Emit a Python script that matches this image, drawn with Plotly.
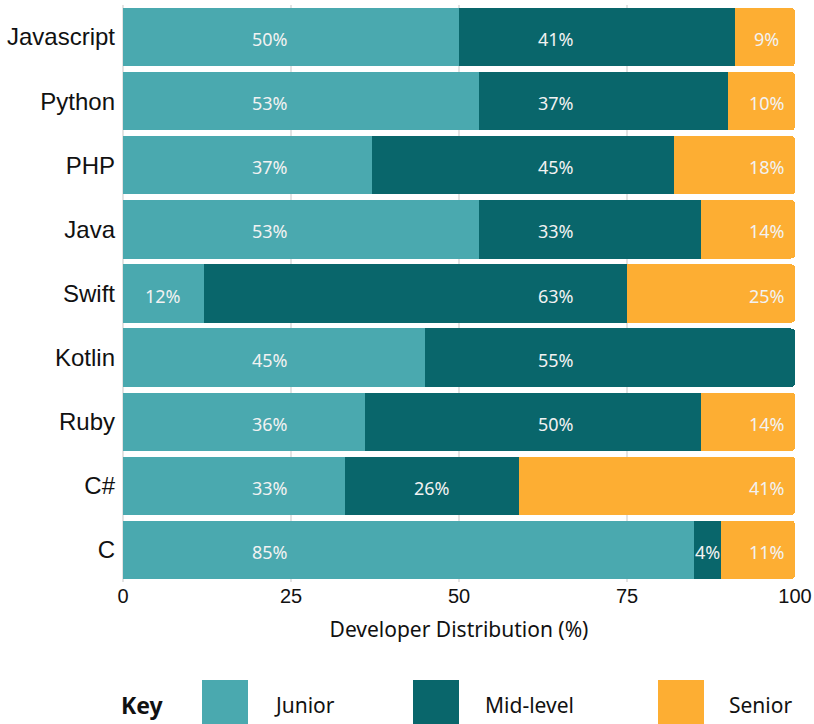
import plotly.graph_objects as go

# Developer seniority split per language (percent of developers)
languages = ["Javascript", "Python", "PHP", "Java", "Swift", "Kotlin", "Ruby", "C#", "C"]
junior = [50, 53, 37, 53, 12, 45, 36, 33, 85]
mid_level = [41, 37, 45, 33, 63, 55, 50, 26, 4]
senior = [9, 10, 18, 14, 25, 0, 14, 41, 11]

series_names = ["Junior", "Mid-level", "Senior"]
series_values = [junior, mid_level, senior]
series_colors = ["#4AA9AF", "#09666B", "#FDAE33"]

# preferred label column for each series (in axis units); falls back to the
# segment centre when the column does not fall inside the segment
label_columns = [21.9, 64.4, 95.8]

tick_values = [0, 25, 50, 75, 100]
axis_title = "Developer Distribution (%)"

label_font = "Noto Sans, Open Sans, sans-serif"
axis_font = "Liberation Sans, Arial, sans-serif"

fig = go.Figure()
for name, vals, color in zip(series_names, series_values, series_colors):
    fig.add_trace(go.Bar(
        y=languages, x=vals, name=name, orientation="h",
        marker=dict(color=color, line=dict(width=0)),
        hoverinfo="x+y+name", showlegend=False,
    ))

annotations = []
for i, lang in enumerate(languages):
    start = 0
    for s, vals in enumerate(series_values):
        v = vals[i]
        end = start + v
        if v > 0:
            col = label_columns[s]
            pad = 2.5
            if start + pad <= col <= end - pad:
                xpos = col
            else:
                xpos = (start + end) / 2
            annotations.append(dict(
                x=xpos, y=lang, xref="x", yref="y", text=f"{v}%",
                showarrow=False, xanchor="center", yanchor="middle", yshift=-2,
                font=dict(family=label_font, size=18, color="#F2F2F2"),
            ))
        start = end

# legend ("Key") drawn below the axis
L, R, T, B = 123, 19, 5, 142
W, H = 814, 724
pw, ph = W - L - R, H - T - B


def px_x(px):
    return (px - L) / pw


def px_y(py):
    return (H - B - py) / ph


annotations.append(dict(
    x=px_x(142), y=px_y(705), xref="paper", yref="paper", text="<b>Key</b>",
    showarrow=False, xanchor="center", yanchor="middle",
    font=dict(family=label_font, size=23, color="#111111"),
))
shapes = []
box_lefts = [202, 413, 658]
text_lefts = [272, 483, 727]
for name, color, bx, tx in zip(series_names, series_colors, box_lefts, text_lefts):
    shapes.append(dict(
        type="rect", xref="paper", yref="paper",
        x0=px_x(bx), x1=px_x(bx + 46), y0=px_y(740), y1=px_y(680),
        fillcolor=color, line=dict(width=0), layer="above",
    ))
    annotations.append(dict(
        x=px_x(tx), y=px_y(705), xref="paper", yref="paper", text=name,
        showarrow=False, xanchor="left", yanchor="middle",
        font=dict(family=label_font, size=21, color="#111111"),
    ))

fig.update_layout(
    barmode="stack",
    bargap=0.09,
    barcornerradius=4,
    width=W, height=H,
    margin=dict(l=L, r=R, t=T, b=B, pad=0, autoexpand=False),
    paper_bgcolor="white", plot_bgcolor="white",
    annotations=annotations,
    shapes=shapes,
    showlegend=False,
)
fig.update_xaxes(
    range=[0, 100], tickvals=tick_values, ticktext=[str(t) for t in tick_values],
    showgrid=True, gridcolor="#E3E3E3", gridwidth=2,
    zeroline=True, zerolinecolor="#E3E3E3", zerolinewidth=2,
    showline=False, ticks="", ticklen=0, automargin=False,
    tickfont=dict(family=axis_font, size=20, color="#111111"),
    title=dict(text=axis_title, standoff=16,
               font=dict(family=label_font, size=21, color="#111111")),
    fixedrange=True,
)
fig.update_yaxes(
    autorange="reversed", showgrid=False, showline=False, ticks="",
    ticklen=0, ticklabelstandoff=7, automargin=False,
    tickfont=dict(family=axis_font, size=24, color="#111111"),
    fixedrange=True,
)

fig.write_html("out.html")
